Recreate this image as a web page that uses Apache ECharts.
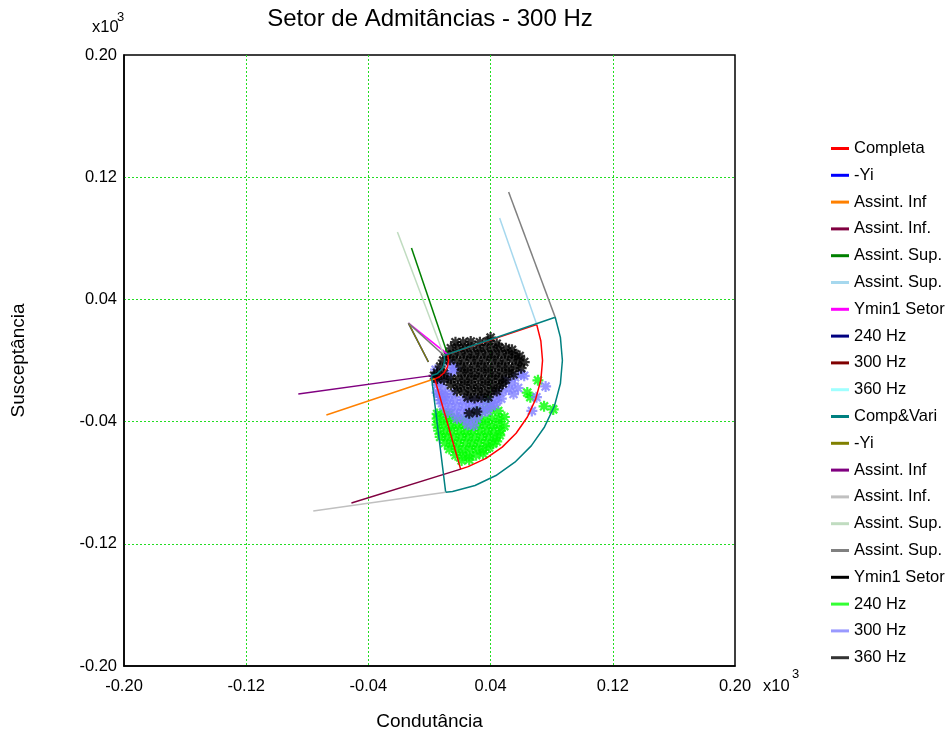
<!DOCTYPE html>
<html><head><meta charset="utf-8">
<script src="https://cdn.jsdelivr.net/npm/echarts@6/dist/echarts.min.js"></script>
<style>html,body{margin:0;padding:0;background:#fff}#c{width:952px;height:735px}</style>
</head><body><div id="c"></div>
<script>
// ---- axis ----
const axisMin = -200, axisMax = 200, axisStep = 80;
// ---- sector "Completa" (G, B) ----
const completaOuter = [[70.2,23.5],[72.9,12.8],[74,0],[72.9,-12.8],[69.5,-25.3],[64.1,-37],[56.7,-47.6],[47.6,-56.7],[37,-64.1],[25.3,-69.5],[20.4,-71.1]];
const completaInner = [[3.4,-12.0],[6.3,-10.8],[9.6,-8.0],[11.7,-4.3],[12.5,0],[11.9,4.0]];
// ---- sector "Comp&Vari" ----
const compVariOuter = [[82.3,28.3],[85.7,15.1],[87,0],[85.7,-15.1],[81.8,-29.8],[75.3,-43.5],[66.6,-55.9],[55.9,-66.6],[43.5,-75.3],[29.8,-81.8],[15.1,-85.7],[10.6,-86.3]];
const compVariInner = [[1.2,-9.9],[5,-8.7],[8.7,-5],[10,0],[9.5,3.3]];
// ---- group 1 lines ----
const yi1 = [[-13.8,24.5],[-0.7,-1.0]];
const assInfA1 = [[3.4,-12.0],[-67.5,-35.7]];
const assInfB1 = [[20.4,-71.1],[-51.1,-93.3]];
const assSupA1 = [[11.9,4.0],[-11.8,73.6]];
const assSupB1 = [[70.2,23.5],[45.9,93.3]];
const ymin1a = [[-13.8,24.5],[11.9,4.0]];
// ---- group 2 lines ----
const yi2 = [[-13.8,24.5],[-0.7,-1.0]];
const assInfA2 = [[1.2,-9.9],[-85.9,-21.9]];
const assInfB2 = [[10.6,-86.3],[-76.1,-98.5]];
const assSupA2 = [[9.5,3.3],[-21.0,84.1]];
const assSupB2 = [[82.3,28.3],[51.8,110.3]];
const ymin1b = [[-13.8,24.5],[9.5,3.3]];
// ---- measured admittances ----
const hz240a = [], hz300a = [], hz360a = [];
const hz240b = [
[5,-35],[9,-34],[13,-35],[30,-33],[35,-32],[40,-32],[45,-33],[38,-26],
[5,-38],[9.5,-38.5],[14,-38],[18.5,-38],[23,-38.5],[27.5,-38],[32,-38],[36.5,-38.5],[41,-38],[45.5,-38],[49,-37],
[5,-42],[9.5,-42],[14,-42.5],[18.5,-42],[23,-42],[27.5,-42.5],[32,-42],[36.5,-42],[41,-42.5],[45.5,-42],[49,-43],
[6,-46],[10.5,-46.5],[15,-46],[19.5,-46],[24,-46.5],[28.5,-46],[33,-46],[37.5,-46.5],[42,-46],[46.5,-46],
[7,-50],[11.5,-50],[16,-50.5],[20.5,-50],[25,-50],[29.5,-50.5],[34,-50],[38.5,-50],[43,-50.5],[46,-49],
[10,-54],[14.5,-54.5],[19,-54],[23.5,-54],[28,-54.5],[32.5,-54],[37,-54],[41.5,-54.5],[44,-53],
[13,-58],[17.5,-58],[22,-58.5],[26.5,-58],[31,-58],[35.5,-58.5],[39,-57],
[17,-62],[21.5,-62],[26,-62.5],[30.5,-62],[35,-61],
[21,-65.5],[26,-65],
[71,-13],[64,-21],[66,-24],[75,-30],[81,-32]
];
const hz300b = [
[4,-6],[4,-11],[5,-16],[5,-21],[7,-26],[8,-14],[9,-19],[10,-24],[14,-3],[17,-5],[15,-7],[12,-10],
[6,-22],[10.5,-22],[15,-22],
[8,-26],[12.5,-26.5],[17,-26],[21.5,-26],[26,-26.5],[30.5,-26],[35,-26],[39.5,-26.5],[44,-26],[47,-25],
[9,-30],[13.5,-30],[18,-30.5],[22.5,-30],[27,-30],[31.5,-30.5],[36,-30],[40.5,-30],[43,-29],
[12,-34],[16.5,-34.5],[21,-34],[25.5,-34],[30,-34.5],[34.5,-34],[38,-33],
[18,-38],[22.5,-38.5],[27,-38],[31,-38],
[25,-42],[29,-42.5],
[50,-13],[54,-15],[58,-18],[52,-19],[56,-11],[60,-9],[48,-20],[55,-22],[44,-22],
[62,-10],[76,-17],[70,-24],[67,-33]
];
const hz360b = [
[22,12],[27,12.5],[33,12],[38,12.5],[44,11],
[14,8],[18.5,8.5],[23,8],[27.5,8.5],[32,8],[36.5,8.5],[41,8],[45.5,8.5],[50,8],[54,7],
[11,4],[15.5,4],[20,4.5],[24.5,4],[29,4],[33.5,4.5],[38,4],[42.5,4],[47,4.5],[51.5,4],[56,4],[59,3],
[9,0],[13.5,0.5],[18,0],[22.5,0],[27,0.5],[31.5,0],[36,0],[40.5,0.5],[45,0],[49.5,0],[54,0.5],[58.5,0],[62,-1],
[7,-4],[20.5,-4],[25,-4.5],[29.5,-4],[34,-4],[38.5,-4.5],[43,-4],[47.5,-4],[52,-4.5],[56.5,-4],[60,-5],
[5,-8],[9.5,-8.5],[21,-8],[25,-8],[29.5,-8.5],[34,-8],[38.5,-8],[43,-8.5],[47.5,-8],[52,-8],[55,-9],
[5,-12],[9.5,-12.5],[14,-12],[18.5,-12],[23,-12.5],[27.5,-12],[32,-12],[36.5,-12.5],[41,-12],[45.5,-12],[50,-12.5],
[14,-16],[18.5,-16.5],[23,-16],[27.5,-16],[32,-16.5],[36.5,-16],[41,-16],[45.5,-16.5],[48,-15],
[18,-20],[22.5,-20.5],[27,-20],[31.5,-20],[36,-20.5],[40.5,-20],[44,-20],
[25,-24],[29.5,-24.5],[34,-24],[38.5,-24],
[26,-34.5],[31,-33.5],[17,12],[40,15],[3,-10]
];

const completa = [completaInner[completaInner.length-1]].concat(completaOuter, completaInner);
const compVari = [compVariInner[compVariInner.length-1]].concat(compVariOuter, compVariInner);

const FONT = '"Liberation Sans", Arial, sans-serif';
const STAR = 'path://M3.6 0h1.8v9h-1.8z M0 3.6h9v1.8h-9z M0.6 1.9L1.9 0.6L8.4 7.1L7.1 8.4z M7.1 0.6L8.4 1.9L1.9 8.4L0.6 7.1z';

// [legend name, colour, data, kind, line colour override]
const specs = [
  ['Completa', '#ff0000', completa, 'line'],
  ['-Yi', '#0000ff', yi1, 'line'],
  ['Assint. Inf', '#ff8000', assInfA1, 'line'],
  ['Assint. Inf.', '#800040', assInfB1, 'line'],
  ['Assint. Sup.', '#008000', assSupA1, 'line'],
  ['Assint. Sup. ', '#a6d8ee', assSupB1, 'line'],
  ['Ymin1 Setor', '#ff00ff', ymin1a, 'line'],
  ['240 Hz', '#000080', hz240a, 'line'],
  ['300 Hz', '#800000', hz300a, 'line'],
  ['360 Hz', '#a0ffff', hz360a, 'line'],
  ['Comp&Vari', '#008080', compVari, 'line'],
  ['-Yi ', '#808000', yi2, 'line'],
  ['Assint. Inf ', '#800080', assInfA2, 'line'],
  ['Assint. Inf. ', '#c0c0c0', assInfB2, 'line'],
  ['Assint. Sup.  ', '#c0dcc0', assSupA2, 'line'],
  ['Assint. Sup.   ', '#808080', assSupB2, 'line'],
  ['Ymin1 Setor ', '#000000', ymin1b, 'line', '#777777'],
  ['240 Hz ', '#00ff00', hz240b, 'scatter'],
  ['300 Hz ', '#8080ff', hz300b, 'scatter'],
  ['360 Hz ', '#000000', hz360b, 'scatter']
];

const series = specs.map(([name, color, data, kind, lc]) => kind === 'line' ? {
  name, type: 'line', data, showSymbol: false, symbol: 'none', silent: true,
  itemStyle: { color }, lineStyle: { color: lc || color, width: 1.5 }
} : {
  name, type: 'scatter', data, symbol: STAR, symbolSize: 11, silent: true,
  itemStyle: { color }
});

const split = { show: true, showMinLine: false, showMaxLine: false, lineStyle: { color: '#22dd22', type: [2, 2], width: 1 } };

const chart = echarts.init(document.getElementById('c'));
chart.setOption({
  animation: false,
  backgroundColor: '#fff',
  grid: { left: 124, top: 55, width: 611, height: 611, outerBoundsMode: 'none', containLabel: false, show: true, borderColor: '#000', borderWidth: 1.5, backgroundColor: 'transparent' },
  xAxis: {
    type: 'value', min: axisMin, max: axisMax, interval: axisStep,
    name: 'Condutância', nameLocation: 'middle', nameGap: 46.5,
    nameTextStyle: { fontSize: 19, color: '#000', fontFamily: FONT },
    axisLine: { show: true, onZero: false, lineStyle: { color: '#000', width: 1.5 } },
    axisTick: { show: false },
    axisLabel: { margin: 12, fontSize: 16.5, color: '#000', fontFamily: FONT, formatter: v => (v / 1000).toFixed(2) },
    splitLine: split
  },
  yAxis: {
    type: 'value', min: axisMin, max: axisMax, interval: axisStep,
    name: 'Susceptância', nameLocation: 'middle', nameGap: 96, nameRotate: 90,
    nameTextStyle: { fontSize: 19, color: '#000', fontFamily: FONT },
    axisLine: { show: true, onZero: false, lineStyle: { color: '#000', width: 1.5 } },
    axisTick: { show: false },
    axisLabel: { margin: 7, fontSize: 16.5, color: '#000', fontFamily: FONT, formatter: v => (v / 1000).toFixed(2) },
    splitLine: split
  },
  legend: {
    orient: 'vertical', left: 826, top: 135, icon: 'rect', itemWidth: 18, itemHeight: 3, itemGap: 9.8,
    selectedMode: false, data: specs.map(s => s[0]),
    textStyle: { fontSize: 16.5, color: '#000', fontFamily: FONT }
  },
  graphic: [
    { type: 'text', x: 430, y: 19, style: { text: 'Setor de Admitâncias - 300 Hz', font: '24px ' + FONT, fill: '#000', textAlign: 'center', textVerticalAlign: 'middle' } },
    { type: 'text', x: 92, y: 27, style: { text: 'x10', font: '16.5px ' + FONT, fill: '#000', textVerticalAlign: 'middle' } },
    { type: 'text', x: 117, y: 17, style: { text: '3', font: '13px ' + FONT, fill: '#000', textVerticalAlign: 'middle' } },
    { type: 'text', x: 763, y: 686, style: { text: 'x10', font: '16.5px ' + FONT, fill: '#000', textVerticalAlign: 'middle' } },
    { type: 'text', x: 792, y: 674, style: { text: '3', font: '13px ' + FONT, fill: '#000', textVerticalAlign: 'middle' } }
  ],
  series
});
</script></body></html>
